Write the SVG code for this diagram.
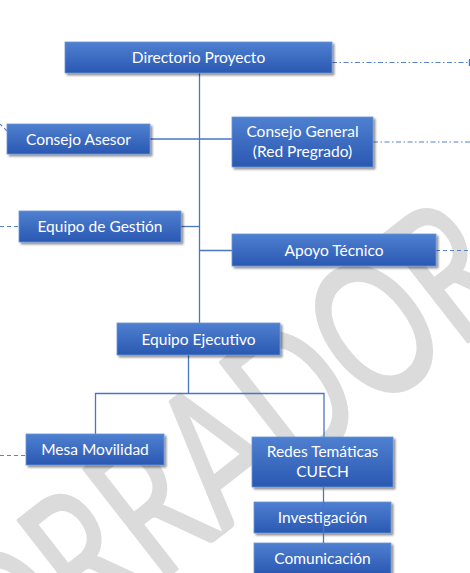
<svg xmlns="http://www.w3.org/2000/svg" width="470" height="573" viewBox="0 0 470 573">
  <defs>
    <linearGradient id="boxGrad" x1="0" y1="0" x2="0" y2="1">
      <stop offset="0" stop-color="#4f80d0"/>
      <stop offset="1" stop-color="#2a58b2"/>
    </linearGradient>
    <filter id="shadow" x="-10%" y="-20%" width="125%" height="160%">
      <feGaussianBlur in="SourceAlpha" stdDeviation="1.3"/>
      <feOffset dx="1.5" dy="2" result="b"/>
      <feComponentTransfer><feFuncA type="linear" slope="0.45"/></feComponentTransfer>
      <feMerge><feMergeNode/><feMergeNode in="SourceGraphic"/></feMerge>
    </filter>
  </defs>
  <style>
    .box { fill: url(#boxGrad); stroke: #6a93d8; stroke-width: 0.8; filter: url(#shadow); }
    .lbl { font-family: Lato, "Open Sans", "Liberation Sans", sans-serif; font-size: 15.5px; fill: #ffffff; text-anchor: middle; }
    .solid { stroke: #4a74c4; stroke-width: 1.3; fill: none; }
    .dashdot { stroke: #5b82cc; stroke-width: 1.2; fill: none; stroke-dasharray: 5 2.5 1.5 2.5; }
    .dashed { stroke: #5b82cc; stroke-width: 1.2; fill: none; stroke-dasharray: 4 3; }
    .wm { font-family: Lato, "Open Sans", "Liberation Sans", sans-serif; font-size: 190px; fill: #dbdbdb; stroke: #dbdbdb; stroke-width: 3; stroke-linejoin: round; text-anchor: middle; }
  </style>
  <rect width="470" height="573" fill="#ffffff"/>
  <text class="wm" x="0" y="0" transform="translate(232 526) rotate(-38) scale(0.7 1)">BORRADOR</text>

  <g id="connectors">
    <path class="solid" d="M199.5 73 V323"/>
    <path class="solid" d="M150 139 H232"/>
    <path class="solid" d="M181 226.5 H199.5"/>
    <path class="solid" d="M199.5 250.5 H232"/>
    <path class="solid" d="M188.5 355 V394"/>
    <path class="solid" d="M95.5 434 V393.5 H324 V437"/>
    <path class="dashdot" d="M332 62.5 H470"/>
    <path class="solid" d="M469.5 59 V66"/>
    <path class="dashdot" d="M373 142 H470"/>
    <path class="dashed" d="M436 250.5 H470"/>
    <path class="dashed" d="M0 226.5 H19"/>
    <path class="dashed" d="M0 455.5 H26"/>
    <path class="dashed" d="M7 131 L0 124"/>
  </g>

  <g id="n-directorio"><rect class="box" x="65" y="42" width="267" height="31"/><text class="lbl" x="198.5" y="63">Directorio Proyecto</text></g>
  <g id="n-consejo-asesor"><rect class="box" x="7" y="124" width="143" height="30"/><text class="lbl" x="78.5" y="144.5">Consejo Asesor</text></g>
  <g id="n-consejo-general"><rect class="box" x="232" y="117" width="141" height="50"/><text class="lbl" x="302.5" y="137">Consejo General</text><text class="lbl" x="302.5" y="157">(Red Pregrado)</text></g>
  <g id="n-gestion"><rect class="box" x="19" y="211" width="162" height="31"/><text class="lbl" x="100" y="232">Equipo de Gestión</text></g>
  <g id="n-apoyo"><rect class="box" x="232" y="234" width="204" height="32"/><text class="lbl" x="334" y="255.5">Apoyo Técnico</text></g>
  <g id="n-ejecutivo"><rect class="box" x="117" y="323" width="163" height="32"/><text class="lbl" x="198.5" y="344.5">Equipo Ejecutivo</text></g>
  <g id="n-mesa"><rect class="box" x="26" y="434" width="138" height="31"/><text class="lbl" x="95" y="455">Mesa Movilidad</text></g>
  <g id="n-redes"><rect class="box" x="252" y="437" width="141" height="50"/><text class="lbl" x="322.5" y="457">Redes Temáticas</text><text class="lbl" x="322.5" y="477">CUECH</text></g>
  <g id="n-investigacion"><rect class="box" x="254" y="502" width="137" height="31"/><text class="lbl" x="322.5" y="523">Investigación</text></g>
  <g id="n-comunicacion"><rect class="box" x="254" y="543" width="137" height="31"/><text class="lbl" x="322.5" y="564">Comunicación</text></g>

  <g id="connectors-over">
    <path class="solid" d="M323.5 487 V543" stroke-width="1"/>
  </g>
</svg>
